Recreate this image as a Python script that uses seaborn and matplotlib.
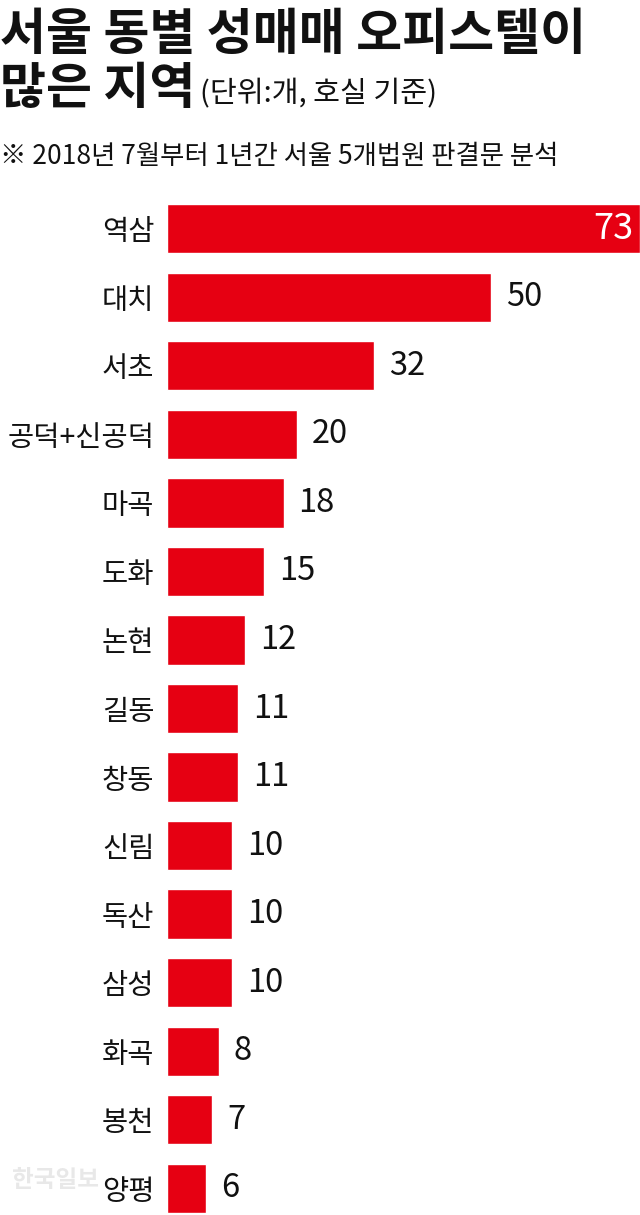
import matplotlib
matplotlib.use("Agg")
import matplotlib.pyplot as plt
import pandas as pd
import seaborn as sns

# Data
regions = ["역삼", "대치", "서초", "공덕+신공덕", "마곡", "도화", "논현", "길동",
           "창동", "신림", "독산", "삼성", "화곡", "봉천", "양평"]
counts = [73, 50, 32, 20, 18, 15, 12, 11, 11, 10, 10, 10, 8, 7, 6]

title_1 = "서울 동별 성매매 오피스텔이"
title_2 = "많은 지역"
unit_note = "(단위:개, 호실 기준)"
source_note = "※ 2018년 7월부터 1년간 서울 5개법원 판결문 분석"

df = pd.DataFrame({"region": regions, "count": counts})

sns.set_theme(style="white")
plt.rcParams["font.family"] = ["Noto Sans CJK KR", "DejaVu Sans"]

RED = "#E60012"
W, H = 640, 1215
fig = plt.figure(figsize=(W / 100, H / 100), dpi=100)

# axes spans exactly the bar block: x 167..640, y 204..1213 px
ax = fig.add_axes([167 / W, 1 - 1213 / H, 1 - 167 / W, (1213 - 204) / H])
sns.barplot(data=df, x="count", y="region", color=RED, width=0.72,
            saturation=1, ax=ax, orient="h")
ax.set_xlim(0, 73)
ax.set_ylim(len(regions) - 1 + 0.36, -0.36)
ax.set_xlabel("")
ax.set_ylabel("")
ax.set_xticks([])
sns.despine(ax=ax, left=True, bottom=True)
ax.tick_params(axis="y", length=0, pad=9, labelsize=20.5, labelcolor="#111111")

# value labels
for i, v in enumerate(counts):
    if i == 0:
        ax.text(v - 1.0, i, str(v), ha="right", va="center", color="white", fontsize=26)
    else:
        ax.text(v + 2.3, i, str(v), ha="left", va="center", color="#111111", fontsize=23.5)

# titles
t1 = fig.text(0.0, 1 - 36 / H, title_1, fontsize=36, fontweight="bold",
              va="center", ha="left", color="#111111")
t2 = fig.text(0.0, 1 - 90 / H, title_2, fontsize=36, fontweight="bold",
              va="center", ha="left", color="#111111")
ax.annotate(unit_note, xy=(1.0, 0.12), xycoords=t2, xytext=(3, 0),
            textcoords="offset points", fontsize=21, va="bottom", ha="left",
            color="#111111", annotation_clip=False)
fig.text(0.0, 1 - 156 / H, source_note, fontsize=19, va="center", ha="left",
         color="#111111")

# watermark
fig.text(12 / W, 1 - 1180 / H, "한국일보", fontsize=17, fontweight="bold",
         color="#e8e8e8", va="center", ha="left", zorder=0)

fig.savefig("out.png", dpi=100)
